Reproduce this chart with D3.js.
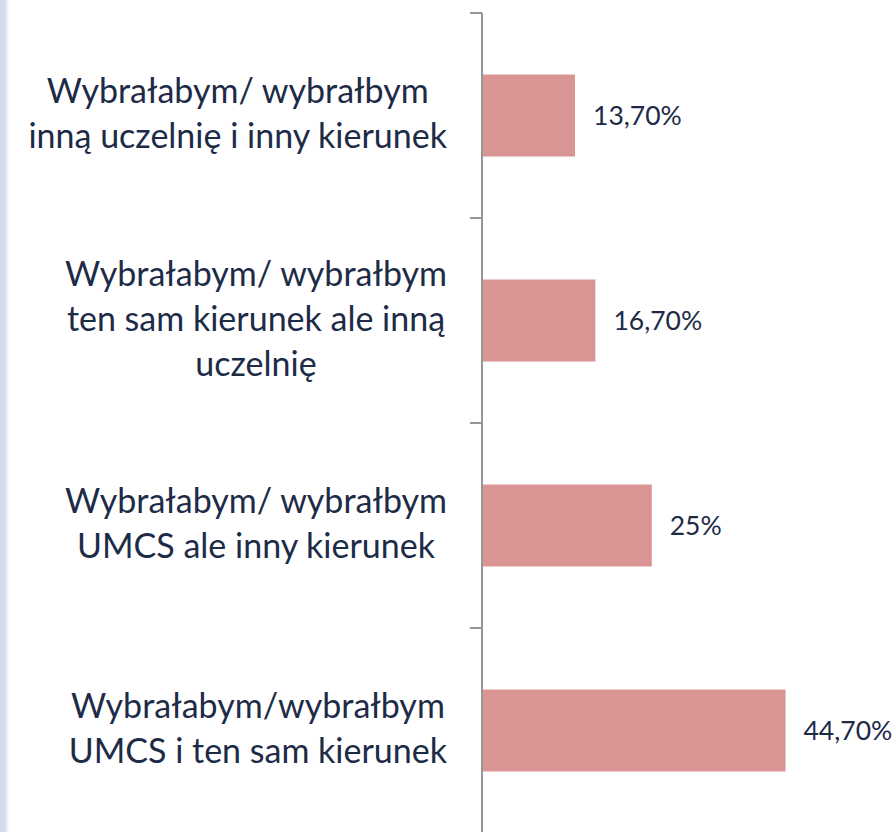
<!DOCTYPE html>
<meta charset="utf-8">
<style>
  body { margin: 0; background: #fff; }
  text { font-family: Lato, "Open Sans", sans-serif; fill: #1d2b47; }
</style>
<body>
<script src="https://d3js.org/d3.v7.min.js"></script>
<script>
  // categories top to bottom, one array of lines per label
  var categories = [
    ["Wybrałabym/ wybrałbym", "inną uczelnię i inny kierunek"],
    ["Wybrałabym/ wybrałbym", "ten sam kierunek ale inną", "uczelnię"],
    ["Wybrałabym/ wybrałbym", "UMCS ale inny kierunek"],
    ["Wybrałabym/wybrałbym", "UMCS i ten sam kierunek"]
  ];
  var values = [13.7, 16.7, 25, 44.7];
  var valueLabels = ["13,70%", "16,70%", "25%", "44,70%"];

  var width = 894, height = 832;

  var svg = d3.select("body").append("svg")
      .attr("width", width)
      .attr("height", height);

  // light stripe on the left edge
  var grad = svg.append("defs").append("linearGradient")
      .attr("id", "edge").attr("x1", 0).attr("x2", 1);
  grad.append("stop").attr("offset", "0%").attr("stop-color", "#cfdbe7");
  grad.append("stop").attr("offset", "60%").attr("stop-color", "#d3deea");
  grad.append("stop").attr("offset", "100%").attr("stop-color", "#ffffff");
  svg.append("rect").attr("x", 0).attr("y", 0)
      .attr("width", 9).attr("height", height)
      .attr("fill", "url(#edge)");

  var ids = d3.range(categories.length);

  var y = d3.scaleBand()
      .domain(ids)
      .range([13, 833])
      .paddingInner(0.6)
      .paddingOuter(0.3);

  var x = d3.scaleLinear()
      .domain([0, 50])
      .range([482, 482 + 50 * 6.79]);

  // bars
  svg.selectAll("rect.bar")
    .data(values)
    .enter().append("rect")
      .attr("class", "bar")
      .attr("x", x(0))
      .attr("y", function(d, i) { return y(i); })
      .attr("width", function(d) { return x(d) - x(0); })
      .attr("height", y.bandwidth())
      .attr("fill", "#d99594");

  // axis with ticks at band boundaries
  var step = y.step();
  var bounds = ids.map(function(i) { return y(i) - step * 0.3; }).concat([833]);
  var axis = svg.append("g");
  axis.append("line")
      .attr("x1", x(0)).attr("x2", x(0))
      .attr("y1", 13).attr("y2", 833)
      .attr("stroke", "#969696").attr("stroke-width", 2);
  axis.selectAll("line.tick")
    .data(bounds)
    .enter().append("line")
      .attr("class", "tick")
      .attr("x1", x(0) - 12).attr("x2", x(0))
      .attr("y1", function(d) { return d; })
      .attr("y2", function(d) { return d; })
      .attr("stroke", "#969696").attr("stroke-width", 2);

  // value labels
  svg.selectAll("text.val")
    .data(values)
    .enter().append("text")
      .attr("class", "val")
      .attr("x", function(d) { return x(d) + 18; })
      .attr("y", function(d, i) { return y(i) + y.bandwidth() / 2; })
      .attr("dy", "0.35em")
      .style("font-size", "26.5px")
      .text(function(d, i) { return valueLabels[i]; });

  // category labels, centred inside a block whose right edge is fixed
  var lineH = 45, rightEdge = 447;
  categories.forEach(function(lines, i) {
    var cy = y(i) + y.bandwidth() / 2;
    var g = svg.append("g");
    var t = g.selectAll("text")
      .data(lines)
      .enter().append("text")
        .style("font-size", "34px")
        .attr("text-anchor", "middle")
        .attr("y", function(d, j) { return cy + (j - (lines.length - 1) / 2) * lineH; })
        .attr("dy", "0.3em")
        .text(function(d) { return d; });
    var maxW = d3.max(t.nodes(), function(n) { return n.getComputedTextLength(); });
    t.attr("x", rightEdge - maxW / 2);
  });
</script>
</body>
</html>
